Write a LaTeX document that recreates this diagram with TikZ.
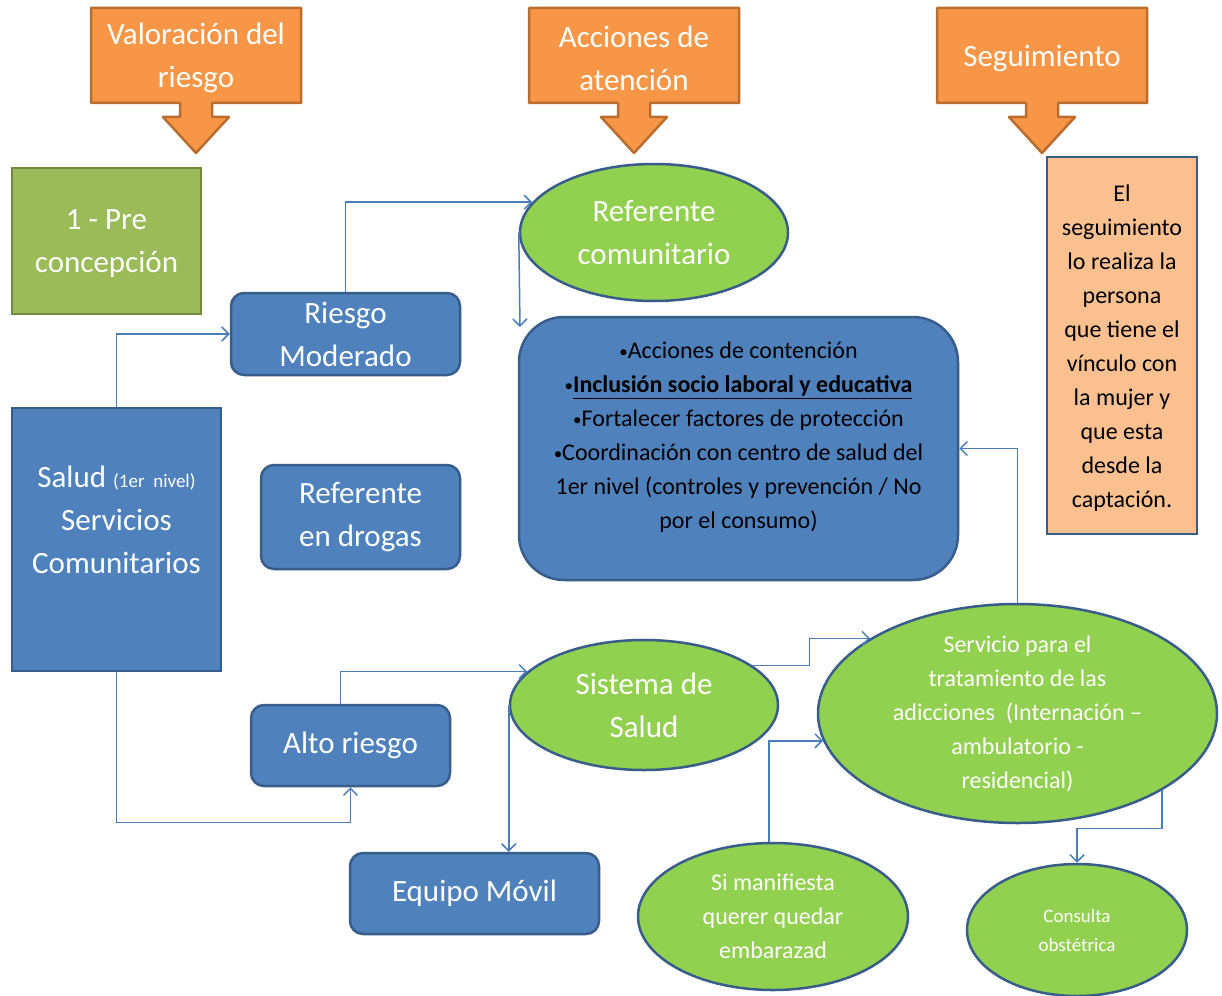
\documentclass[tikz,border=0pt]{standalone}
\usepackage{fontspec}
\setmainfont{Carlito}
\usetikzlibrary{calc,arrows.meta,shapes.geometric}
\definecolor{orng}{HTML}{F79646}
\definecolor{orngline}{HTML}{B96D2E}
\definecolor{leaf}{HTML}{9BBB59}
\definecolor{leafline}{HTML}{71893F}
\definecolor{lime}{HTML}{92D050}
\definecolor{steel}{HTML}{4F81BD}
\definecolor{steelline}{HTML}{385D8A}
\definecolor{peach}{HTML}{FAC090}
\definecolor{wire}{HTML}{4A7EBB}
\newcommand{\bul}{{\fontsize{17}{34}\selectfont\raisebox{1pt}{•}}}
\tikzset{
  bigtxt/.style={font=\fontsize{31}{43}\selectfont, text=white, align=center},
  midtxt/.style={font=\fontsize{24}{34}\selectfont, align=center},
  callout/.style={fill=orng, draw=orngline, line width=2.5pt, line join=round},
  bluebox/.style={rectangle, rounded corners=13pt, fill=steel, draw=steelline, line width=2.5pt, inner sep=0pt},
  blob/.style={ellipse, fill=lime, draw=steelline, line width=2.5pt, inner sep=0pt},
  link/.style={draw=wire, line width=1.5pt, -{Straight Barb[length=7pt,width=14pt]}},
}
\begin{document}
\begin{tikzpicture}[x=1pt,y=-1pt]
  \useasboundingbox[fill=white] (0,0) rectangle (1222,995);
  % orange headers with down arrow
  \foreach \cx in {196,634,1042}
    \draw[callout] (\cx-105,8) -- (\cx+105,8) -- (\cx+105,103) -- (\cx+16,103) -- (\cx+16,117)
      -- (\cx+33,117) -- (\cx,153) -- (\cx-33,117) -- (\cx-16,117) -- (\cx-16,103) -- (\cx-105,103) -- cycle;
  \node[bigtxt] (val) at (196,58) {Valoración del\\riesgo};
  \node[bigtxt] (acc) at (634,58) {Acciones de\\atención};
  \node[bigtxt] (seg) at (1042,59) {Seguimiento};

  \node[rectangle, fill=leaf, draw=leafline, line width=2.5pt, minimum width=189, minimum height=146] (pre) at (106.5,241) {};
  \node[bigtxt] (pretxt) at ($(pre.center)+(0,3)$) {1 - Pre\\concepción};
  \node[bluebox, minimum width=229, minimum height=82, bigtxt] (riesgo) at (345.5,334) {Riesgo\\Moderado};
  \node[bluebox, rounded corners=0pt, minimum width=209, minimum height=263] (salud) at (116.5,539.5) {};
  \node[bigtxt] (saludtxt) at ($(salud.center)+(0,-20)$) {Salud {\fontsize{19}{20}\selectfont(1er\ \ nivel)}\\Servicios\\Comunitarios};
  \node[bluebox, minimum width=199, minimum height=104, bigtxt] (drogas) at (360.5,517) {Referente\\en drogas};
  \node[bluebox, minimum width=199, minimum height=81, bigtxt] (alto) at (350.5,745.5) {Alto riesgo};
  \node[bluebox, minimum width=249, minimum height=81, bigtxt] (equipo) at (474.5,893.5) {Equipo Móvil};
  \node[bluebox, rounded corners=45pt, minimum width=439, minimum height=263] (acciones) at (738.5,448.5) {};
  \node[midtxt] (accionestxt) at ($(acciones.center)+(0,-11)$) {\bul Acciones de contención\\\bul\underline{\textbf{Inclusión socio laboral y educativa}}\\\bul Fortalecer factores de protección\\\bul Coordinación con centro de salud del\\1er nivel (controles y prevención / No\\por el consumo)};

  \node[blob, minimum width=268, minimum height=137, bigtxt] (refc) at (654,232.5) {Referente\\comunitario};
  \node[blob, minimum width=268, minimum height=130, bigtxt] (sis) at (644,705) {Sistema de\\Salud};
  \node[blob, inner sep=-6pt, minimum width=399, minimum height=219, midtxt, text=white] (serv) at (1017.5,713.5) {Servicio para el\\tratamiento de las\\adicciones\ \ (Internación –\\ambulatorio -\\residencial)};
  \node[blob, minimum width=270, minimum height=147, midtxt, text=white] (sima) at (773,916.5) {Si manifiesta\\querer quedar\\embarazad};
  \node[blob, minimum width=220, minimum height=132, font=\fontsize{19}{29}\selectfont, text=white, align=center] (cons) at (1077,930) {Consulta\\obstétrica};

  \node[rectangle, fill=peach, draw=steelline, line width=2.5pt, minimum width=150, minimum height=377, midtxt] (nota) at (1122,345.5) {};
  \node[midtxt] (notatxt) at ($(nota.center)+(0,3)$) {El\\seguimiento\\lo realiza la\\persona\\que tiene el\\vínculo con\\la mujer y\\que esta\\desde la\\captación.};

  % connectors
  \coordinate (fin1) at (520,327);
  \draw[link] (salud.north) |- (riesgo.west);
  \draw[link] (riesgo.north) |- (refc.166);
  \draw[link] (refc.west) -- (fin1);
  \draw[link] (salud.south) -- ++(0,150) -| (alto.south);
  \draw[link] ([xshift=-10pt]alto.north) |- (sis.164);
  \draw[link] (sis.west) -- (sis.west |- equipo.north);
  \draw[link] (sis.20) -- ++(57,0) |- (serv.153);
  \draw[link] ([xshift=-4pt]sima.north) |- (serv.188);
  \draw[link] (serv.north) |- (acciones.east);
  \draw[link] (serv.-28) -- ++(0,38) -| (cons.north);
\end{tikzpicture}
\end{document}
